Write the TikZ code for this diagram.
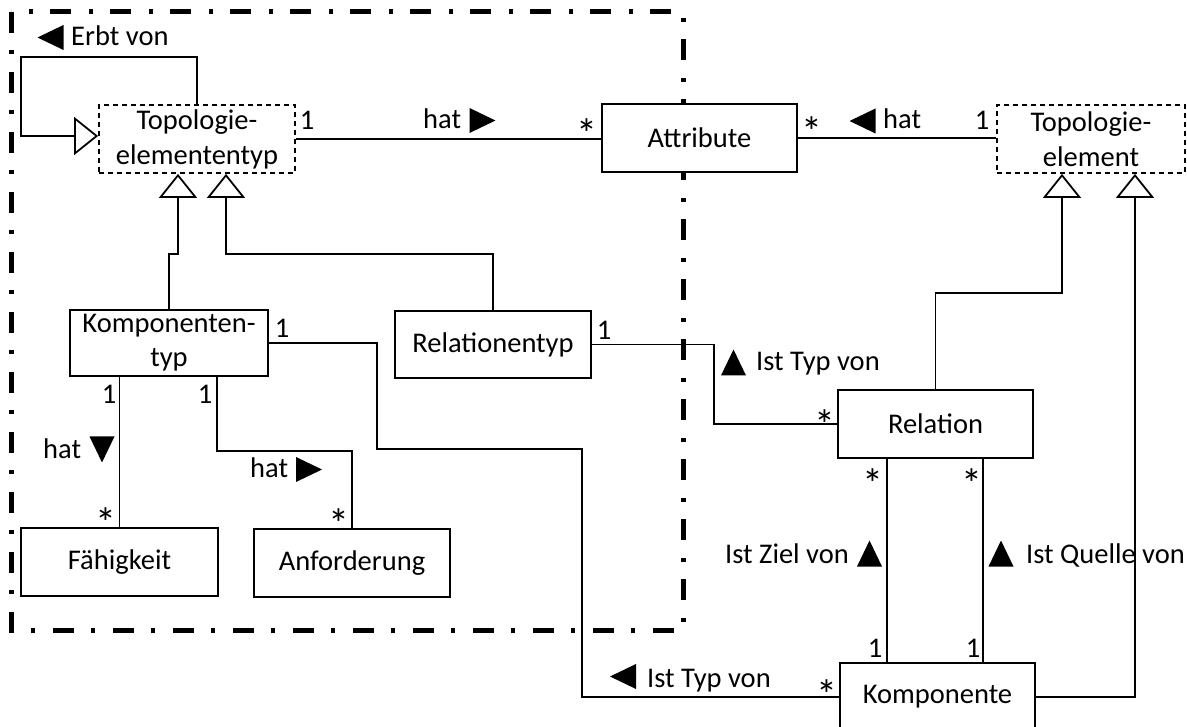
\documentclass[tikz,border=0pt]{standalone}
\usepackage{fontspec}
\setmainfont{Carlito}
\usetikzlibrary{arrows.meta,calc}
\begin{document}
\begin{tikzpicture}[x=1pt,y=-1pt,
  every node/.style={font=\fontsize{28.5}{35}\selectfont},
  cls/.style={draw,line width=1.8pt,fill=white,inner sep=0pt,align=center,
              minimum width=196pt,minimum height=68pt},
  abstractcls/.style={cls,dash pattern=on 5pt off 4pt},
  conn/.style={line width=1.8pt},
  gen/.style={conn,-{Triangle[open,fill=white,length=24pt,width=38pt]}},
  frame/.style={line width=5pt,dash pattern=on 21pt off 17pt on 4pt off 18pt},
  mult/.style={inner sep=0pt,anchor=base},
  star/.style={inner sep=0pt,anchor=north,font=\fontsize{42}{42}\selectfont},
  lbl/.style={inner sep=0pt,anchor=base west},
  dirmark/.pic={\fill (13,0) -- (-13,-12.5) -- (-13,12.5) -- cycle;}
]
\useasboundingbox (0,0) rectangle (1187,727);
\clip (0,0) rectangle (1187,727);

% type-level package frame
\draw[frame] (11,12) rectangle (683,630);

% classes
\node[abstractcls] (tet) at (197,139) {Topologie-\\elemententyp};
\node[cls,minimum width=195pt] (att) at (699.5,138) {Attribute};
\node[abstractcls,minimum width=188pt] (te) at (1091,139) {Topologie-\\element};
\node[cls,minimum width=198pt,minimum height=66pt] (kt) at (169,343) {Komponenten-\\[-1pt]typ};
\node[cls,minimum height=67pt] (rt) at (493,344.5) {Relationentyp};
\node[cls,minimum width=195pt] (rel) at (935.5,424) {Relation};
\node[cls,minimum width=197pt] (fae) at (119.5,562) {Fähigkeit};
\node[cls] (anf) at (352,563) {Anforderung};
\node[cls,minimum width=195pt] (komp) at (937.5,697) {Komponente};

% generalisations
\draw[gen] (tet.north) |- (21,57) |- ($(tet.west)+(0,-3)$);
\draw[gen] (kt.north) |- (178,254) -- ($(tet.south)+(-19,0)$);
\draw[gen] (rt.north) |- (226,254) -- ($(tet.south)+(29,0)$);
\draw[gen] (rel.north) |- (1062,293) -- ($(te.south)+(-29,0)$);
\draw[gen] (komp.east) -| ($(te.south)+(44,0)$);

% associations
\draw[conn] (tet.east) -- (tet.east -| att.west);
\draw[conn] (att.east) -- (att.east -| te.west);
\draw[conn] (kt.east) -| (377,449) -| (582,697) -- (komp.west);
\draw[conn] (rt.east) -| (714,424) -- (rel.west);
\draw[conn] (fae.north |- kt.south) -- (fae.north);
\draw[conn] ($(kt.south)+(48,0)$) |- ($(anf.north)+(0,-77)$) -- (anf.north);
\draw[conn] ($(rel.south)+(-48.5,0)$) coordinate (zs) -- (zs |- komp.north);
\draw[conn] ($(rel.south)+(47.5,0)$) coordinate (qs) -- (qs |- komp.north);

% reading-direction marks
\pic (m1) at (50.5,37.5) [rotate=180] {dirmark};
\pic (m2) at (482.5,120.5) {dirmark};
\pic (m3) at (862.5,121) [rotate=180] {dirmark};
\pic (m4) at (733.5,362.5) [rotate=90] {dirmark};
\pic (m5) at (102,449.5) [rotate=-90] {dirmark};
\pic (m6) at (309,469.5) {dirmark};
\pic (m7) at (869.5,553.5) [rotate=90] {dirmark};
\pic (m8) at (1001,553.5) [rotate=90] {dirmark};
\pic (m9) at (623,676.5) [rotate=180] {dirmark};

% association names
\node[lbl] (l1) at (71,46) {Erbt von};
\node[lbl] (l2) at (423,129) {hat};
\node[lbl] (l3) at (883,129) {hat};
\node[lbl] (l4) at (756,371) {Ist Typ von};
\node[lbl] (l5) at (43,458) {hat};
\node[lbl] (l6) at (250,478) {hat};
\node[lbl] (l7) at (725,563) {Ist Ziel von};
\node[lbl] (l8) at (1026,563) {Ist Quelle von};
\node[lbl] (l9) at (647,687) {Ist Typ von};

% multiplicities
\node[mult] (n1) at (307,130) {1};
\node[mult] (n2) at (982,130) {1};
\node[mult] (n3) at (282,338) {1};
\node[mult] (n4) at (604,340) {1};
\node[mult] (n5) at (109,404) {1};
\node[mult] (n6) at (205,404) {1};
\node[mult] (n7) at (875,657) {1};
\node[mult] (n8) at (973,657) {1};
\node[star] (s1) at (587,118) {*};
\node[star] (s2) at (812,116) {*};
\node[star] (s3) at (825,409) {*};
\node[star] (s4) at (106,507) {*};
\node[star] (s5) at (339,508) {*};
\node[star] (s6) at (873,468) {*};
\node[star] (s7) at (972,468) {*};
\node[star] (s8) at (827,679) {*};
\end{tikzpicture}
\end{document}
